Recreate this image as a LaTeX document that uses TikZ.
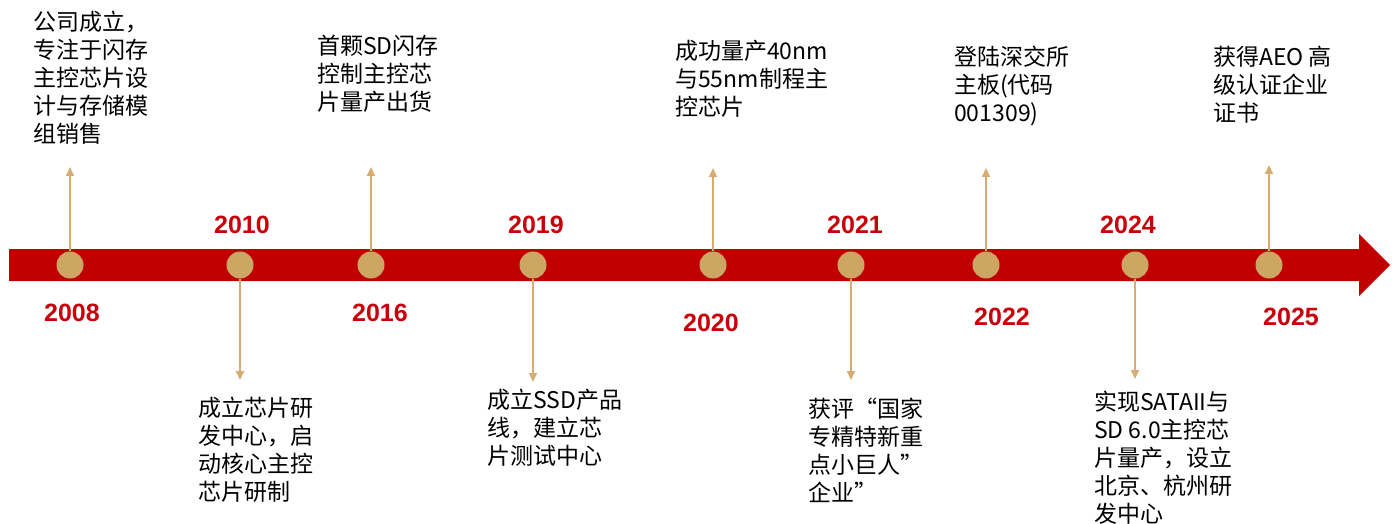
\documentclass[tikz,border=0pt]{standalone}
\usepackage{fontspec}
\setmainfont{Liberation Sans}
\newfontfamily\cjk{Noto Sans CJK SC}
\usetikzlibrary{arrows.meta}
\definecolor{barred}{RGB}{192,0,0}
\definecolor{dottan}{RGB}{205,166,100}
\definecolor{linktan}{RGB}{214,172,115}
\definecolor{yearred}{RGB}{200,0,10}
\begin{document}
\begin{tikzpicture}[x=1pt,y=-1pt,
  dot/.style={circle,fill=dottan,minimum size=27pt,inner sep=0pt},
  year/.style={font=\fontsize{25}{30}\selectfont\bfseries,text=yearred,inner sep=0pt},
  note/.style={font=\cjk\fontsize{23}{28}\selectfont,align=left,anchor=north west,inner sep=0pt},
  link/.style={draw=linktan,line width=1.8pt,-{Triangle[width=8pt,length=9pt]}}]
\useasboundingbox (0,0) rectangle (1398,524);
\fill[barred] (9,249) -- (1359,249) -- (1359,234) -- (1390,265) -- (1359,296) -- (1359,281) -- (9,281) -- cycle;

% dots
\node[dot] (d2008) at (70,265) {};
\node[dot] (d2010) at (240,265) {};
\node[dot] (d2016) at (371,265) {};
\node[dot] (d2019) at (533,265) {};
\node[dot] (d2020) at (713,265) {};
\node[dot] (d2021) at (851,265) {};
\node[dot] (d2022) at (986,265) {};
\node[dot] (d2024) at (1135,265) {};
\node[dot] (d2025) at (1269,265) {};

% arrow ends
\coordinate (e2008) at (70,167);
\coordinate (e2010) at (240,380);
\coordinate (e2016) at (371,167);
\coordinate (e2019) at (533,382);
\coordinate (e2020) at (713,168);
\coordinate (e2021) at (851,380);
\coordinate (e2022) at (986,168);
\coordinate (e2024) at (1135,379);
\coordinate (e2025) at (1269,165);

\draw[link] (d2008) -- (e2008);
\draw[link] (d2010) -- (e2010);
\draw[link] (d2016) -- (e2016);
\draw[link] (d2019) -- (e2019);
\draw[link] (d2020) -- (e2020);
\draw[link] (d2021) -- (e2021);
\draw[link] (d2022) -- (e2022);
\draw[link] (d2024) -- (e2024);
\draw[link] (d2025) -- (e2025);

% years
\node[year] (y2008) at (72,313) {2008};
\node[year] (y2010) at (242,225) {2010};
\node[year] (y2016) at (380,313) {2016};
\node[year] (y2019) at (536,225) {2019};
\node[year] (y2020) at (711,323) {2020};
\node[year] (y2021) at (855,225) {2021};
\node[year] (y2022) at (1002,317) {2022};
\node[year] (y2024) at (1128,225) {2024};
\node[year] (y2025) at (1291,317) {2025};

% notes
\node[note] (n2008) at (33,11) {公司成立，\\专注于闪存\\主控芯片设\\计与存储模\\组销售};
\node[note] (n2016) at (317,35) {首颗SD闪存\\控制主控芯\\片量产出货};
\node[note] (n2020) at (675,40) {成功量产40nm\\与55nm制程主\\控芯片};
\node[note] (n2022) at (954,46) {登陆深交所\\主板(代码\\001309)};
\node[note] (n2025) at (1213,46) {获得AEO 高\\级认证企业\\证书};
\node[note] (n2010) at (198,397) {成立芯片研\\发中心，启\\动核心主控\\芯片研制};
\node[note] (n2019) at (487,389) {成立SSD产品\\线，建立芯\\片测试中心};
\node[note] (n2021) at (808,398) {获评“国家\\专精特新重\\点小巨人”\\企业”};
\node[note] (n2024) at (1094,391) {实现SATAII与\\SD 6.0主控芯\\片量产，设立\\北京、杭州研\\发中心};
\end{tikzpicture}
\end{document}
